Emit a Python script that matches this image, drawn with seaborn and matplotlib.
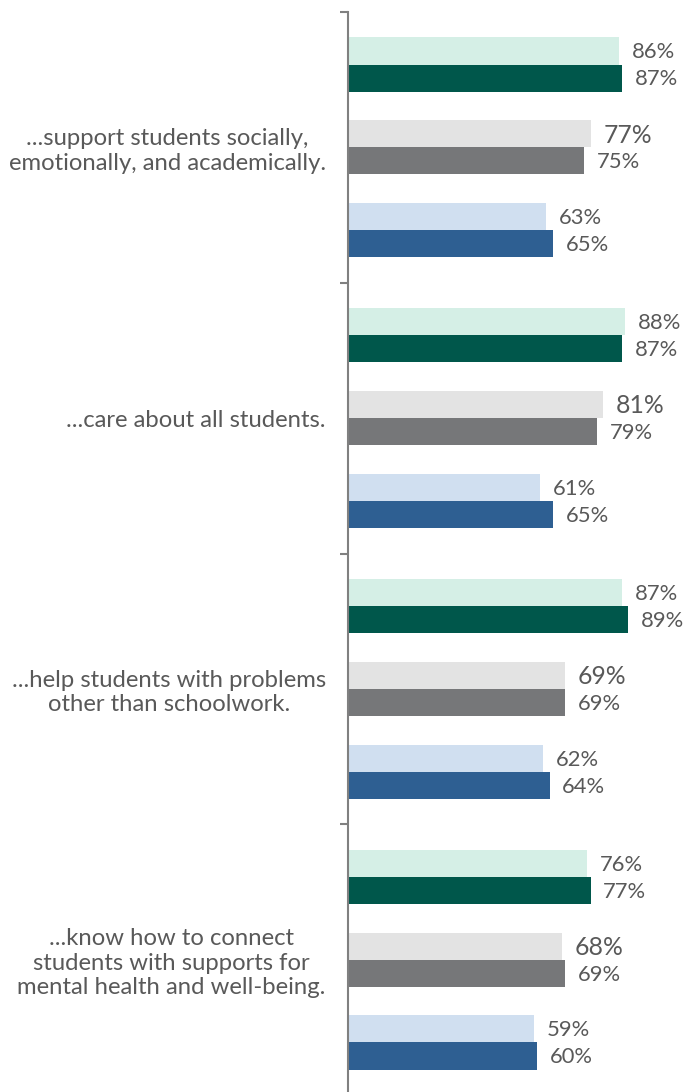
from __future__ import annotations

import matplotlib

matplotlib.use("Agg")
import matplotlib.pyplot as plt
import numpy as np
import pandas as pd
import seaborn as sns

STATEMENTS = [
    "...support students socially,\nemotionally, and academically.",
    "...care about all students.",
    "...help students with problems\nother than schoolwork.",
    "...know how to connect\nstudents with supports for\nmental health and well-being.",
]
GROUPS = ["Green", "Gray", "Blue"]
WAVES = ["Earlier", "Later"]

GREEN_EARLIER = [86, 88, 87, 76]
GREEN_LATER = [87, 87, 89, 77]
GRAY_EARLIER = [77, 81, 69, 68]
GRAY_LATER = [75, 79, 69, 69]
BLUE_EARLIER = [63, 61, 62, 59]
BLUE_LATER = [65, 65, 64, 60]

PALETTE = {
    "Green Earlier": "#d5efe6",
    "Green Later": "#00574b",
    "Gray Earlier": "#e3e3e3",
    "Gray Later": "#767779",
    "Blue Earlier": "#d0dff0",
    "Blue Later": "#2e5f92",
}
TEXT = "#595959"
AXIS = "#808080"

# layout within one statement block (in category units)
GROUP_STEP = 0.306
WAVE_STEP = 0.1


def build_frame() -> pd.DataFrame:
    series = {
        ("Green", "Earlier"): GREEN_EARLIER,
        ("Green", "Later"): GREEN_LATER,
        ("Gray", "Earlier"): GRAY_EARLIER,
        ("Gray", "Later"): GRAY_LATER,
        ("Blue", "Earlier"): BLUE_EARLIER,
        ("Blue", "Later"): BLUE_LATER,
    }
    rows = []
    for (group, wave), values in series.items():
        gi = GROUPS.index(group)
        wi = WAVES.index(wave)
        for si, value in enumerate(values):
            pos = si + (gi - 1) * GROUP_STEP + (wi - 0.5) * WAVE_STEP
            rows.append(
                {
                    "statement": si,
                    "series": f"{group} {wave}",
                    "pos": round(pos, 4),
                    "value": value,
                }
            )
    return pd.DataFrame(rows)


def main() -> None:
    sns.set_theme(style="white")
    plt.rcParams["font.family"] = ["Lato", "DejaVu Sans"]

    df = build_frame()

    fig = plt.figure(figsize=(6.85, 10.92), dpi=100)
    ax = fig.add_axes([348 / 685, -3 / 1092, 337 / 685, 1083 / 1092])

    sns.barplot(
        data=df,
        x="value",
        y="pos",
        hue="series",
        palette=PALETTE,
        saturation=1,
        orient="h",
        native_scale=True,
        dodge=False,
        width=1.0,
        linewidth=0,
        legend=False,
        ax=ax,
    )

    for _, row in df.iterrows():
        big = row["series"] == "Gray Earlier"
        ax.annotate(
            f"{row['value']}%",
            xy=(row["value"], row["pos"]),
            xytext=(9.2, -1),
            textcoords="offset points",
            ha="left",
            va="center",
            fontsize=17.8 if big else 15.8,
            color=TEXT,
        )

    ax.set_xlim(0, 107)
    ax.set_ylim(len(STATEMENTS) - 0.5, -0.5)

    ax.set_yticks(np.arange(len(STATEMENTS) + 1) - 0.5)
    ax.set_yticklabels([])
    ax.set_yticks(np.arange(len(STATEMENTS)), minor=True)
    ax.set_yticklabels(STATEMENTS, minor=True, fontsize=17.2, color=TEXT,
                       multialignment="center", linespacing=1.2)
    ax.tick_params(axis="y", which="major", direction="out", length=6, width=1.5, color=AXIS, left=True)
    ax.tick_params(axis="y", which="minor", length=0, pad=16)
    ax.set_xticks([])
    ax.set_xlabel("")
    ax.set_ylabel("")

    for name, spine in ax.spines.items():
        spine.set_visible(name == "left")
    ax.spines["left"].set_color(AXIS)
    ax.spines["left"].set_linewidth(1.5)
    ax.grid(False)

    fig.savefig("out.png", dpi=100, facecolor="white")
    plt.close(fig)


if __name__ == "__main__":
    main()
